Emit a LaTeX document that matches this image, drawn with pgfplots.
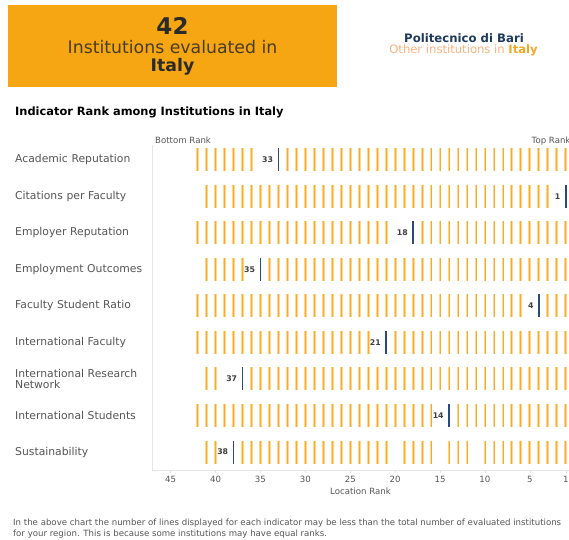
\documentclass[border=0pt]{standalone}
\usepackage{fontspec}
\setmainfont{DejaVu Sans}
\usepackage{pgfplots}
\usepackage{pgfplotstable}
\pgfplotsset{compat=1.18}
\definecolor{boxor}{HTML}{F5A612}
\definecolor{halo}{HTML}{FFD590}
\definecolor{core}{HTML}{F8AC2A}
\definecolor{navy}{HTML}{2B4A78}
\definecolor{uninavy}{HTML}{1E3A5F}
\definecolor{othertxt}{HTML}{F9B27B}
\definecolor{italyor}{HTML}{F5A623}
\definecolor{lab}{HTML}{555555}
\definecolor{darktxt}{HTML}{2A2A2A}

\pgfplotstableread[row sep=\\]{
x y\\
42 0\\ 41 0\\ 40 0\\ 39 0\\ 38 0\\ 37 0\\ 36 0\\ 32 0\\ 31 0\\ 30 0\\ 29 0\\ 28 0\\ 27 0\\ 26 0\\ 25 0\\ 24 0\\ 23 0\\ 22 0\\ 21 0\\ 20 0\\ 19 0\\ 18 0\\ 17 0\\ 16 0\\ 15 0\\ 14 0\\ 13 0\\ 12 0\\ 11 0\\ 10 0\\ 9 0\\ 8 0\\ 7 0\\ 6 0\\ 5 0\\ 4 0\\ 3 0\\ 2 0\\ 1 0\\
41 1\\ 40 1\\ 39 1\\ 38 1\\ 37 1\\ 36 1\\ 35 1\\ 34 1\\ 33 1\\ 32 1\\ 31 1\\ 30 1\\ 29 1\\ 28 1\\ 27 1\\ 26 1\\ 25 1\\ 24 1\\ 23 1\\ 22 1\\ 21 1\\ 20 1\\ 19 1\\ 18 1\\ 17 1\\ 16 1\\ 15 1\\ 14 1\\ 13 1\\ 12 1\\ 11 1\\ 10 1\\ 9 1\\ 8 1\\ 7 1\\ 6 1\\ 5 1\\ 4 1\\ 3 1\\
42 2\\ 41 2\\ 40 2\\ 39 2\\ 38 2\\ 37 2\\ 36 2\\ 35 2\\ 34 2\\ 33 2\\ 32 2\\ 31 2\\ 30 2\\ 29 2\\ 28 2\\ 27 2\\ 26 2\\ 25 2\\ 24 2\\ 23 2\\ 22 2\\ 21 2\\ 17 2\\ 16 2\\ 15 2\\ 14 2\\ 13 2\\ 12 2\\ 11 2\\ 10 2\\ 9 2\\ 8 2\\ 7 2\\ 6 2\\ 5 2\\ 4 2\\ 3 2\\ 2 2\\ 1 2\\
41 3\\ 40 3\\ 39 3\\ 38 3\\ 37 3\\ 34 3\\ 33 3\\ 32 3\\ 31 3\\ 30 3\\ 29 3\\ 28 3\\ 27 3\\ 26 3\\ 25 3\\ 24 3\\ 23 3\\ 22 3\\ 21 3\\ 20 3\\ 19 3\\ 18 3\\ 17 3\\ 16 3\\ 15 3\\ 14 3\\ 13 3\\ 12 3\\ 11 3\\ 10 3\\ 9 3\\ 8 3\\ 7 3\\ 6 3\\ 5 3\\ 4 3\\ 3 3\\ 2 3\\ 1 3\\
42 4\\ 41 4\\ 40 4\\ 39 4\\ 38 4\\ 37 4\\ 36 4\\ 35 4\\ 34 4\\ 33 4\\ 32 4\\ 31 4\\ 30 4\\ 29 4\\ 28 4\\ 27 4\\ 26 4\\ 25 4\\ 24 4\\ 23 4\\ 22 4\\ 21 4\\ 20 4\\ 19 4\\ 18 4\\ 17 4\\ 16 4\\ 15 4\\ 14 4\\ 13 4\\ 12 4\\ 11 4\\ 10 4\\ 9 4\\ 8 4\\ 7 4\\ 6 4\\ 3 4\\ 2 4\\ 1 4\\
42 5\\ 41 5\\ 40 5\\ 39 5\\ 38 5\\ 37 5\\ 36 5\\ 35 5\\ 34 5\\ 33 5\\ 32 5\\ 31 5\\ 30 5\\ 29 5\\ 28 5\\ 27 5\\ 26 5\\ 25 5\\ 24 5\\ 23 5\\ 20 5\\ 19 5\\ 18 5\\ 17 5\\ 16 5\\ 15 5\\ 14 5\\ 13 5\\ 12 5\\ 11 5\\ 10 5\\ 9 5\\ 8 5\\ 7 5\\ 6 5\\ 5 5\\ 4 5\\ 3 5\\ 2 5\\ 1 5\\
41 6\\ 40 6\\ 36 6\\ 35 6\\ 34 6\\ 33 6\\ 32 6\\ 31 6\\ 30 6\\ 29 6\\ 28 6\\ 27 6\\ 26 6\\ 25 6\\ 24 6\\ 23 6\\ 22 6\\ 21 6\\ 20 6\\ 19 6\\ 18 6\\ 17 6\\ 16 6\\ 15 6\\ 14 6\\ 13 6\\ 12 6\\ 11 6\\ 10 6\\ 9 6\\ 8 6\\ 7 6\\ 6 6\\ 5 6\\ 4 6\\ 3 6\\ 2 6\\ 1 6\\
42 7\\ 41 7\\ 40 7\\ 39 7\\ 38 7\\ 37 7\\ 36 7\\ 35 7\\ 34 7\\ 33 7\\ 32 7\\ 31 7\\ 30 7\\ 29 7\\ 28 7\\ 27 7\\ 26 7\\ 25 7\\ 24 7\\ 23 7\\ 22 7\\ 21 7\\ 20 7\\ 19 7\\ 18 7\\ 17 7\\ 16 7\\ 13 7\\ 12 7\\ 11 7\\ 10 7\\ 9 7\\ 8 7\\ 7 7\\ 6 7\\ 5 7\\ 4 7\\ 3 7\\ 2 7\\ 1 7\\
41 8\\ 40 8\\ 37 8\\ 36 8\\ 35 8\\ 34 8\\ 33 8\\ 32 8\\ 31 8\\ 30 8\\ 29 8\\ 28 8\\ 27 8\\ 26 8\\ 25 8\\ 24 8\\ 23 8\\ 22 8\\ 21 8\\ 19 8\\ 18 8\\ 17 8\\ 16 8\\ 14 8\\ 13 8\\ 12 8\\ 10 8\\ 9 8\\ 8 8\\ 7 8\\ 6 8\\ 5 8\\ 4 8\\ 3 8\\ 2 8\\ 1 8\\
}\others

\pgfplotstableread[row sep=\\]{
x y\\
33 0\\ 1 1\\ 18 2\\ 35 3\\ 4 4\\ 21 5\\ 37 6\\ 14 7\\ 38 8\\
}\uni

\begin{document}
\begin{tikzpicture}
\useasboundingbox (0pt,0pt) rectangle (569pt,-539pt);
\clip (0pt,0pt) rectangle (569pt,-539pt);
% header
\fill[boxor] (8pt,-5pt) rectangle (337pt,-87pt);
\node[font=\fontsize{23}{26}\selectfont\bfseries, text=darktxt, anchor=center] at (172.5pt,-26pt) {42};
\node[font=\fontsize{17.3}{19}\selectfont, text=darktxt!85!boxor, anchor=center] at (172.5pt,-47.5pt) {Institutions evaluated in};
\node[font=\fontsize{17.3}{19}\selectfont\bfseries, text=darktxt, anchor=center] at (172.5pt,-66.5pt) {Italy};
\node[font=\fontsize{11.7}{13}\selectfont\bfseries, text=uninavy, anchor=center] at (464pt,-38.5pt) {Politecnico di Bari};
\node[font=\fontsize{11.6}{13}\selectfont, text=othertxt, anchor=center] at (463.5pt,-50.5pt) {Other institutions in \textbf{\textcolor{italyor}{Italy}}};
% title
\node[font=\fontsize{11.4}{13}\selectfont\bfseries, text=black, anchor=west, inner sep=0pt] at (15pt,-112pt) {Indicator Rank among Institutions in Italy};
\node[font=\fontsize{8.6}{10}\selectfont, text=lab, anchor=west, inner sep=0pt] at (155pt,-140.5pt) {Bottom Rank};
\node[font=\fontsize{8.6}{10}\selectfont, text=lab, anchor=west, inner sep=0pt] at (531.5pt,-141.5pt) {Top Rank};
% footnote
\node[font=\fontsize{8.6}{11}\selectfont, text=lab, anchor=north west, inner sep=0pt, align=left] at (13pt,-519pt) {In the above chart the number of lines displayed for each indicator may be less than the total number of evaluated institutions\\for your region. This is because some institutions may have equal ranks.};
\begin{axis}[
  at={(152pt,-470pt)}, anchor=south west,
  scale only axis, width=417pt, height=325pt,
  x dir=reverse, y dir=reverse,
  xmin=0.64, xmax=47.08, ymin=-0.40, ymax=8.49,
  axis x line*=bottom, axis y line*=left,
  axis line style={draw=black!10, line width=0.6pt},
  xtick={45,40,35,30,25,20,15,10,5,1},
  tick align=outside, major tick length=3pt,
  x tick style={draw=black!12, line width=0.5pt},
  y tick style={draw=none},
  ytick={0,1,2,3,4,5,6,7,8},
  yticklabels={Academic Reputation, Citations per Faculty, Employer Reputation, Employment Outcomes, Faculty Student Ratio, International Faculty, {International Research\\Network}, International Students, Sustainability},
  yticklabel style={anchor=west, xshift=-134pt, align=left, text width=130pt, font=\fontsize{10.8}{10.8}\selectfont, text=lab, inner sep=0pt},
  xticklabel style={font=\fontsize{8.6}{10}\selectfont, text=lab},
  xlabel={Location Rank},
  xlabel style={font=\fontsize{8.6}{10}\selectfont, text=lab, yshift=2pt},
  /pgf/number format/assume math mode=true,
  clip=false,
]
\addplot[only marks, mark=|, mark size=11.5pt, mark options={draw=halo, line width=2.8pt}] table[x=x,y=y] {\others};
\addplot[only marks, mark=|, mark size=11.5pt, mark options={draw=core, line width=0.8pt}] table[x=x,y=y] {\others};
\addplot[only marks, mark=|, mark size=11.5pt, mark options={draw=navy, line width=1.8pt},
  point meta=x, nodes near coords={\pgfmathprintnumber{\pgfplotspointmeta}},
  every node near coord/.append style={anchor=east, xshift=-4.5pt, inner sep=0pt, font=\fontsize{7.8}{9}\selectfont\bfseries, text=darktxt!90}] table[x=x,y=y] {\uni};
\end{axis}
\end{tikzpicture}
\end{document}
